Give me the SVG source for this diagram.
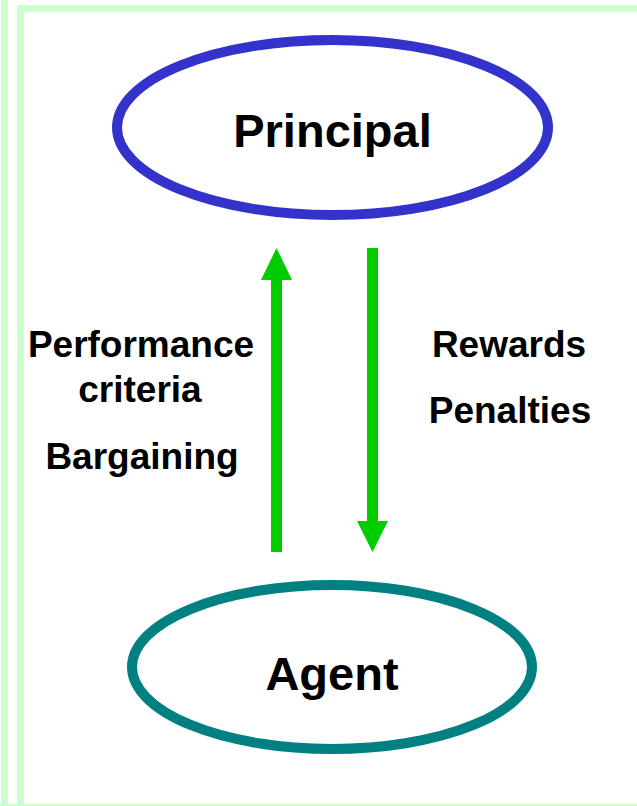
<svg xmlns="http://www.w3.org/2000/svg" width="637" height="806" viewBox="0 0 637 806">
<style>
.frame{fill:#CCFFCC}
.lbl{font-family:"Liberation Sans",Arial,sans-serif;font-weight:bold;fill:#000;text-anchor:middle}
.node{font-size:47px}
.side{font-size:37px}
.arrow{fill:#00CC00}
</style>
<rect width="637" height="806" fill="#fff"/>
<g id="frame">
<rect class="frame" x="1" y="0" width="7" height="806"/>
<rect class="frame" x="17" y="5" width="7" height="801"/>
<rect class="frame" x="17" y="5" width="620" height="7"/>
<rect class="frame" x="0" y="804" width="637" height="2"/>
</g>
<g id="principal">
<ellipse cx="332.5" cy="127.5" rx="215.5" ry="87.5" fill="#fff" stroke="#3333CC" stroke-width="10"/>
<text class="lbl node" x="332.5" y="147">Principal</text>
</g>
<g id="agent">
<ellipse cx="332" cy="667" rx="200" ry="82" fill="#fff" stroke="#008080" stroke-width="10"/>
<text class="lbl node" x="332" y="690">Agent</text>
</g>
<g id="connectors">
<polygon class="arrow" points="276.5,248 292,280 282,280 282,552 271,552 271,280 261,280"/>
<polygon class="arrow" points="367,248 378,248 378,521 388,521 372.5,552 357,521 367,521"/>
</g>
<g id="labels">
<text class="lbl side" x="141" y="357">Performance</text>
<text class="lbl side" x="140" y="402">criteria</text>
<text class="lbl side" x="142" y="469">Bargaining</text>
<text class="lbl side" x="509" y="357">Rewards</text>
<text class="lbl side" x="510" y="423">Penalties</text>
</g>
</svg>
